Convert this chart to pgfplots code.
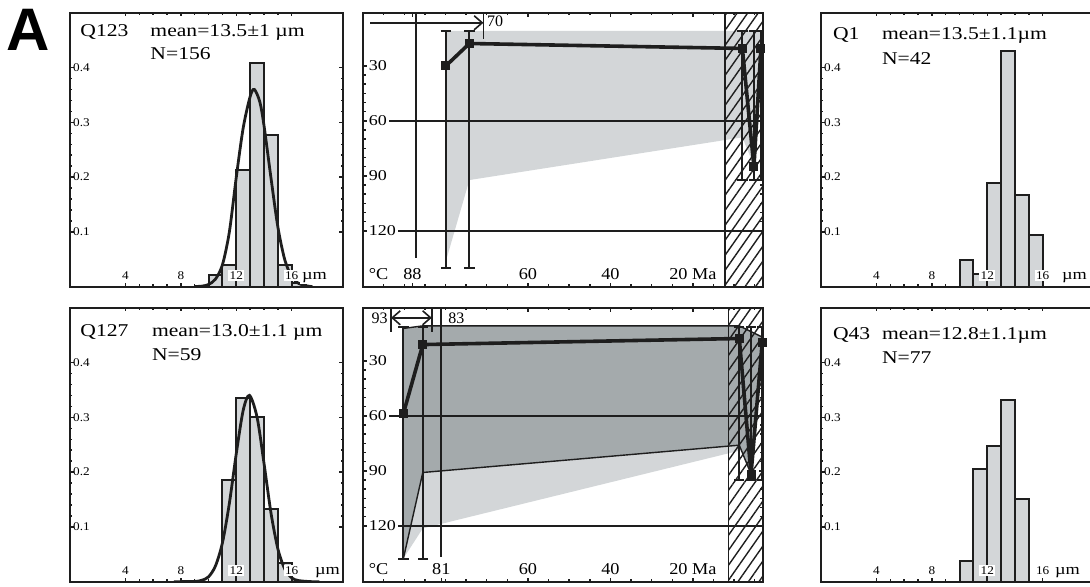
\documentclass[border=0pt]{standalone}
\usepackage{fontspec}
\setmainfont{Liberation Serif}
\newfontfamily\sansbold{Liberation Sans}
\usepackage{pgfplots}
\pgfplotsset{compat=1.18}
\usetikzlibrary{arrows.meta,patterns.meta}
\definecolor{lgrey}{RGB}{211,214,216}
\definecolor{dgrey}{RGB}{164,170,172}
\definecolor{ink}{RGB}{30,30,30}

\newcommand\hticks{\fontsize{5.9}{6.5}\selectfont}
\newcommand\hunit{\fontsize{7.6}{8}\selectfont}
\newcommand\myticks{\fontsize{7.5}{8}\selectfont}
\newcommand\mxticks{\fontsize{8.3}{9}\selectfont}
\newcommand\ttl{\fontsize{9}{10}\selectfont}
\newcommand\ann{\fontsize{8}{9}\selectfont}

% tick numbers of a histogram panel, set as text inside the frame
\newcommand\histlabels[1]{%
  \foreach \v/\p in {4/27.72,8/55.43,12/83.15,16/110.86}
    \node[anchor=base, fill=white, inner sep=0.7pt, font=\hticks, xscale=1.12] at ([xshift=\p pt,yshift=3.5pt]#1.south west) {\v};
  \foreach \v/\p in {0.1/27.4,0.2/54.8,0.3/82.2,0.4/109.6}
    \node[anchor=west, inner sep=0.5pt, font=\hticks, xscale=1.12] at ([xshift=0.8pt,yshift=\p pt]#1.south west) {\v};
}

\pgfplotsset{
  base/.style={scale only axis, height=137pt, anchor=north west, axis on top,
    axis line style={draw=ink, line width=1.2pt},
    every tick/.style={draw=ink, line width=0.7pt},
    tick align=inside,
    /pgf/number format/assume math mode=true},
  hist/.style={base, width=136.5pt, xmin=0, xmax=19.7, ymin=0, ymax=0.5,
    major tick length=1.8pt, minor tick length=1.2pt,
    xtick={4,8,12,16}, xticklabels={}, minor x tick num=3,
    ytick={0.1,0.2,0.3,0.4}, yticklabels={}, minor y tick num=4},
  mid/.style={base, width=200pt, xmin=3, xmax=100, x dir=reverse,
    ymin=1, ymax=150.5, y dir=reverse, clip mode=individual,
    major tick length=2pt, minor tick length=1.3pt,
    minor xtick={5,10,...,95},
    ytick={30,60,90,120}, yticklabels={30,60,90,120}, minor y tick num=5,
    xticklabel style={anchor=base, yshift=3.5pt, fill=white, inner sep=0.7pt, font=\mxticks, xscale=1.1},
    yticklabel style={anchor=west, xshift=1.6pt, fill=white, inner sep=0.9pt, font=\myticks, xscale=1.2}},
  bars/.style={ybar interval, fill=lgrey, draw=ink, line width=1pt},
  gauss/.style={ink, line width=1.4pt, smooth},
  refline/.style={ink, line width=0.9pt},
  hatch/.style={draw=ink, line width=0.6pt, pattern={Lines[angle=55,distance=4.3pt,line width=0.7pt]}, pattern color=ink},
  tpath/.style={ink, line width=1.8pt, mark=square*, mark size=2pt, mark options={solid, line width=0.5pt},
    error bars/.cd, y dir=both, y explicit,
    error bar style={line width=1pt},
    error mark options={rotate=90, mark size=2.6pt, line width=1pt, draw=ink}},
}

\begin{document}
\begin{tikzpicture}
\useasboundingbox (0,0) rectangle (545pt,-293pt);

\node[anchor=base west, inner sep=0, font=\sansbold\bfseries\fontsize{30}{30}\selectfont] at (3pt,-25pt) {A};

% ---------- Q123 ----------
\begin{axis}[hist, name=tl, at={(35pt,-6.35pt)}]
\addplot[bars] coordinates {(10,0.022) (11,0.039) (12,0.213) (13,0.409) (14,0.276) (15,0.039) (16,0.007) (17,0)};
\addplot[gauss] coordinates {(9,0.0003) (9.5,0.001) (10,0.004) (10.5,0.014) (11,0.040) (11.5,0.10) (12,0.20)
  (12.5,0.29) (13,0.347) (13.3,0.360) (13.7,0.337) (14,0.294) (14.5,0.199) (15,0.109) (15.5,0.049)
  (16,0.018) (16.5,0.006) (17,0.002) (17.5,0)};
\end{axis}
\histlabels{tl}
\node[anchor=base west, inner sep=0, font=\ttl, xscale=1.2] at ([xshift=5pt,yshift=-11.7pt]tl.north west) {Q123};
\node[anchor=base west, inner sep=0, font=\ttl, xscale=1.2] at ([xshift=40pt,yshift=-11.7pt]tl.north west) {mean=13.5±1 µm};
\node[anchor=base west, inner sep=0, font=\ttl, xscale=1.2] at ([xshift=40pt,yshift=-23.3pt]tl.north west) {N=156};
\node[anchor=base west, inner sep=0.7pt, fill=white, font=\hunit, xscale=1.2] at ([xshift=115pt,yshift=3.5pt]tl.south west) {µm};

% ---------- Q127 ----------
\begin{axis}[hist, name=bl, at={(35pt,-153.85pt)}]
\addplot[bars] coordinates {(11,0.185) (12,0.335) (13,0.301) (14,0.133) (15,0.034) (16,0)};
\addplot[gauss] coordinates {(7.5,0) (8,0.0001) (9,0.0005) (9.5,0.0025) (10,0.009) (10.5,0.029) (11,0.071)
  (11.5,0.143) (12,0.234) (12.5,0.313) (12.95,0.340) (13.5,0.300) (14,0.216) (14.5,0.126) (15,0.060)
  (15.5,0.023) (16,0.007) (16.5,0.002) (17.5,0) (18,0)};
\end{axis}
\histlabels{bl}
\node[anchor=base west, inner sep=0, font=\ttl, xscale=1.2] at ([xshift=5pt,yshift=-14.5pt]bl.north west) {Q127};
\node[anchor=base west, inner sep=0, font=\ttl, xscale=1.2] at ([xshift=40.8pt,yshift=-14.5pt]bl.north west) {mean=13.0±1.1 µm};
\node[anchor=base west, inner sep=0, font=\ttl, xscale=1.2] at ([xshift=40.8pt,yshift=-26.6pt]bl.north west) {N=59};
\node[anchor=base west, inner sep=0.7pt, fill=white, font=\hunit, xscale=1.2] at ([xshift=121.5pt,yshift=3.5pt]bl.south west) {µm};

% ---------- Q1 ----------
\begin{axis}[hist, name=tr, at={(410.5pt,-6.35pt)}]
\addplot[bars] coordinates {(10,0.048) (11,0.024) (12,0.190) (13,0.430) (14,0.167) (15,0.095) (16,0)};
\end{axis}
\histlabels{tr}
\node[anchor=base west, inner sep=0, font=\ttl, xscale=1.2] at ([xshift=5.8pt,yshift=-13.3pt]tr.north west) {Q1};
\node[anchor=base west, inner sep=0, font=\ttl, xscale=1.2] at ([xshift=30.3pt,yshift=-13.3pt]tr.north west) {mean=13.5±1.1µm};
\node[anchor=base west, inner sep=0, font=\ttl, xscale=1.2] at ([xshift=30.3pt,yshift=-26pt]tr.north west) {N=42};
\node[anchor=base west, inner sep=0.7pt, fill=white, font=\hunit, xscale=1.2] at ([xshift=119.5pt,yshift=3.5pt]tr.south west) {µm};

% ---------- Q43 ----------
\begin{axis}[hist, name=br, at={(410.5pt,-153.85pt)}]
\addplot[bars] coordinates {(10,0.038) (11,0.206) (12,0.247) (13,0.332) (14,0.151) (15,0)};
\end{axis}
\histlabels{br}
\node[anchor=base west, inner sep=0, font=\ttl, xscale=1.2] at ([xshift=5.8pt,yshift=-16pt]br.north west) {Q43};
\node[anchor=base west, inner sep=0, font=\ttl, xscale=1.2] at ([xshift=30.3pt,yshift=-16pt]br.north west) {mean=12.8±1.1µm};
\node[anchor=base west, inner sep=0, font=\ttl, xscale=1.2] at ([xshift=30.3pt,yshift=-28pt]br.north west) {N=77};
\node[anchor=base west, inner sep=0.7pt, fill=white, font=\hunit, xscale=1.2] at ([xshift=116pt,yshift=3.5pt]br.south west) {µm};

% ---------- top thermal history ----------
\begin{axis}[mid, name=tm, at={(181.5pt,-6.35pt)}, xtick={88,60,40,20}, xticklabels={88,60,40,{20 Ma}}]
\addplot[fill=lgrey, draw=none] coordinates {(79.9,10.9) (3.5,10.9) (3.5,30) (6.0,80) (8.0,69) (74.2,92.3) (79.6,134.2)} -- cycle;
\addplot[hatch] coordinates {(12.2,0) (0,0) (0,160) (12.2,160)} -- cycle;
\addplot[refline] coordinates {(100,60) (3,60)};
\addplot[refline] coordinates {(100,120) (3,120)};
\addplot[ink, line width=0.8pt] coordinates {(87.1,1) (87.1,134.9)};
\addplot[ink, line width=0.8pt, -{Straight Barb[length=4pt,width=7pt]}] coordinates {(98.3,6.5) (70.8,6.5)};
\addplot[ink, line width=0.8pt] coordinates {(70.8,1) (70.8,15.6)};
\addplot[tpath] coordinates {
  (79.9,30) += (0,110.2) -= (0,19.1)
  (74.2,17.8) += (0,122.4) -= (0,6.9)
  (8.0,20.5) += (0,71.8) -= (0,9.6)
  (5.2,85.1) += (0,7.2) -= (0,74.2)
  (3.5,20.5) += (0,71.8) -= (0,9.6)};
\node[anchor=base west, inner sep=0, font=\ann] at (axis cs:70.0,8.7) {70};
\end{axis}
\node[anchor=base west, inner sep=0, font=\mxticks, xscale=1.1] at ([xshift=2.7pt,yshift=3.5pt]tm.south west) {°C};

% ---------- bottom thermal history ----------
\begin{axis}[mid, name=bm, at={(181.5pt,-153.85pt)}, xtick={81,60,40,20}, xticklabels={81,60,40,{20 Ma}}]
\addplot[fill=lgrey, draw=none] coordinates {(90.2,137.8) (85.5,121.4) (8.75,79) (8.75,76) (85.5,90.9)} -- cycle;
\addplot[fill=dgrey, draw=none] coordinates {(90.2,12.3) (85.5,10.9) (8.75,10.9) (3.2,17) (3.2,22) (5.9,91.8) (8.75,76) (85.5,90.9) (90.2,137.8)} -- cycle;
\addplot[ink, line width=0.7pt] coordinates {(90.2,137.8) (85.5,90.9) (8.75,76) (5.9,91.8)};
\addplot[ink, line width=0.7pt] coordinates {(90.2,12.3) (85.5,10.9) (8.75,10.9) (3.2,17)};
\addplot[hatch] coordinates {(11.4,0) (0,0) (0,160) (11.4,160)} -- cycle;
\addplot[refline] coordinates {(100,60) (3,60)};
\addplot[refline] coordinates {(100,120) (3,120)};
\addplot[ink, line width=0.8pt] coordinates {(81.1,1) (81.1,136.9)};
\addplot[ink, line width=0.8pt, {Straight Barb[length=4pt,width=7pt]}-{Straight Barb[length=4pt,width=7pt]}] coordinates {(93.2,6.5) (83.3,6.5)};
\addplot[ink, line width=0.8pt] coordinates {(93.2,1) (93.2,14.2)};
\addplot[ink, line width=0.8pt] coordinates {(83.3,1) (83.3,14.2)};
\addplot[tpath] coordinates {
  (90.2,58.7) += (0,79.6) -= (0,47.2)
  (85.5,21.1) += (0,117.2) -= (0,9.6)
  (8.75,17.8) += (0,77.2) -= (0,6.3)
  (5.9,91.8) += (0,3.2) -= (0,80.3)
  (3.2,20.2) += (0,74.8) -= (0,8.7)};
\node[anchor=base east, inner sep=0, font=\ann, xshift=-1.5pt] at (axis cs:93.2,9.6) {93};
\node[anchor=base west, inner sep=0, font=\ann] at (axis cs:79.4,9.6) {83};
\end{axis}
\node[anchor=base west, inner sep=0, font=\mxticks, xscale=1.1] at ([xshift=2.7pt,yshift=3.5pt]bm.south west) {°C};
\end{tikzpicture}
\end{document}
